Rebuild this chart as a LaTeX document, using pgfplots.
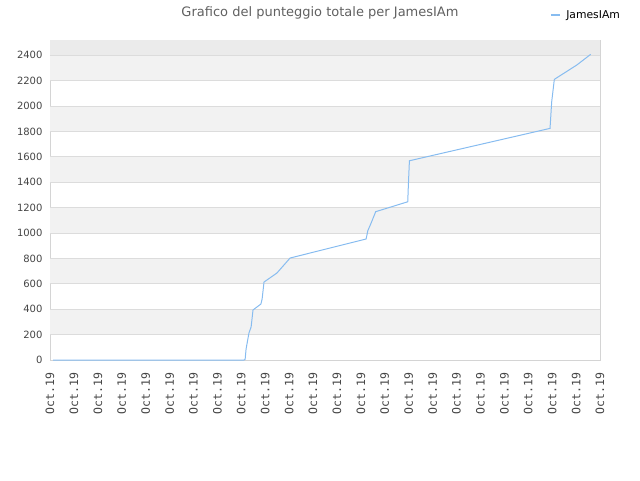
\documentclass[border=0pt]{standalone}
\usepackage{fontspec}
\setmainfont{DejaVu Sans}
\setmonofont{DejaVu Sans Mono}
\usepackage{pgfplots}
\pgfplotsset{compat=1.18}
\definecolor{lineblue}{RGB}{135,188,240}
\definecolor{bandgray}{RGB}{242,242,242}
\definecolor{topgray}{RGB}{235,235,235}
\definecolor{gridgray}{RGB}{220,220,220}
\definecolor{framegray}{RGB}{212,212,212}
\definecolor{textgray}{RGB}{68,68,68}
\begin{document}
\begin{tikzpicture}[x=1pt,y=1pt]
\path[use as bounding box] (0,0) rectangle (640,480);
\node[text=textgray!85, font=\fontsize{13}{15}\selectfont] at (320,467) {Grafico del punteggio totale per JamesIAm};
\begin{axis}[
    at={(50pt,120pt)}, anchor=south west,
    scale only axis,
    width=550pt, height=320pt,
    xmin=0, xmax=23,
    ymin=0, ymax=2520,
    xtick={0,...,23},
    xticklabel={Oct.19},
    ytick={0,200,...,2400},
    major tick length=0pt,
    axis line style={framegray},
    /pgf/number format/assume math mode=true,
    /pgf/number format/fixed,
    /pgf/number format/1000 sep={},
    scaled y ticks=false,
    yticklabel style={font=\fontsize{10}{12}\selectfont, text=textgray, xshift=-4pt},
    xticklabel style={font=\ttfamily\fontsize{11.5}{13}\selectfont, text=textgray, rotate=90, anchor=east, xshift=-9pt},
    legend style={at={(0.909,1.078)}, anchor=west, draw=none, fill=none,
        font=\fontsize{10.8}{12}\selectfont, inner sep=0pt},
    legend image code/.code={\draw[#1, line width=1.2pt] (0pt,0pt) -- (9pt,0pt); \path (13pt,0pt);},
]
% alternating background bands
\pgfplotsinvokeforeach{200,600,1000,1400,1800,2200}{
  \fill[bandgray] (axis cs:0,#1) rectangle (axis cs:23,#1+200);
}
\fill[topgray] (axis cs:0,2400) rectangle (axis cs:23,2520);
\pgfplotsinvokeforeach{200,400,...,2400}{
  \draw[gridgray, line width=0.8pt] (axis cs:0,#1) -- (axis cs:23,#1);
}
\addplot[color=lineblue, line width=1pt, mark=none] coordinates {
  (0.13,0) (8.11,0) (8.16,5) (8.20,87) (8.32,213) (8.41,260) (8.49,394)
  (8.82,441) (8.87,480) (8.95,614) (9.49,685) (10.04,803)
  (13.22,953) (13.29,1018) (13.43,1079) (13.62,1168) (14.96,1246)
  (14.99,1394) (15.03,1569) (20.91,1824) (20.98,2034) (21.09,2210)
  (22.03,2323) (22.61,2407)
};
\addlegendentry{JamesIAm}
\end{axis}
\end{tikzpicture}
\end{document}
